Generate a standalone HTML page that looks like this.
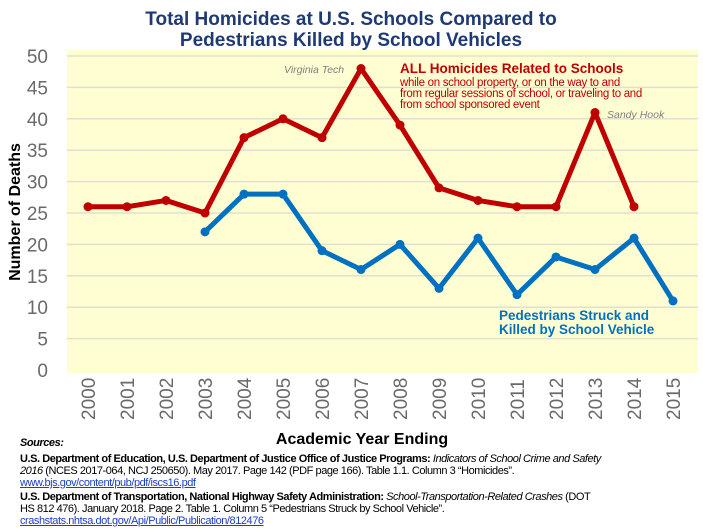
<!DOCTYPE html>
<html><head><meta charset="utf-8"><style>
body{margin:0;width:703px;height:529px;background:#fff;overflow:hidden;font-family:"Liberation Sans",sans-serif;}
svg{position:absolute;left:0;top:0}
.src{position:absolute;left:20px;font-size:11px;line-height:12px;color:#000;font-family:"Liberation Sans",sans-serif;letter-spacing:-0.45px;white-space:nowrap}
a{color:#1a3fc4;text-decoration:underline}
</style></head><body>
<svg id="chart" width="703" height="529"></svg>
<div class="src" style="top:437px;font-style:italic;font-weight:bold">Sources:</div>
<div class="src" style="top:453px"><b>U.S. Department of Education, U.S. Department of Justice Office of Justice Programs:</b> <i>Indicators of School Crime and Safety</i><br><i>2016</i> (NCES 2017-064, NCJ 250650). May 2017. Page 142 (PDF page 166). Table 1.1. Column 3 “Homicides”.<br><a>www.bjs.gov/content/pub/pdf/iscs16.pdf</a></div>
<div class="src" style="top:491px"><b>U.S. Department of Transportation, National Highway Safety Administration:</b> <i>School-Transportation-Related Crashes</i> (DOT<br>HS 812 476). January 2018. Page 2. Table 1. Column 5 “Pedestrians Struck by School Vehicle”.<br><a>crashstats.nhtsa.dot.gov/Api/Public/Publication/812476</a></div>
<script>
const years=[2000,2001,2002,2003,2004,2005,2006,2007,2008,2009,2010,2011,2012,2013,2014,2015];
const homicides=[26,26,27,25,37,40,37,48,39,29,27,26,26,41,26,null];
const pedestrians=[null,null,null,22,28,28,19,16,20,13,21,12,18,16,21,11];
const yTicks=[0,5,10,15,20,25,30,35,40,45,50];
const NS='http://www.w3.org/2000/svg';
const svg=document.getElementById('chart');
const x=i=>88+i*39;
const y=v=>370-v*6.28;
function mk(t,a,txt){const e=document.createElementNS(NS,t);for(const k in a)e.setAttribute(k,a[k]);if(txt!=null)e.textContent=txt;svg.appendChild(e);return e;}
let e;
e=mk('rect',{x:67,y:50,width:631,height:323,fill:'#fffed2'});


e=mk('text',{x:351,y:25,'text-anchor':'middle','font-size':19,'font-weight':'bold',fill:'#1f3a73'},'Total Homicides at U.S. Schools Compared to');


e=mk('text',{x:351,y:46,'text-anchor':'middle','font-size':19,'font-weight':'bold',fill:'#1f3a73'},'Pedestrians Killed by School Vehicles');


yTicks.forEach(v=>{
 if(v>0){e=mk('line',{x1:67,x2:698,y1:y(v),y2:y(v),stroke:'#e0e0d0','stroke-width':1.5});
 
 }
 e=mk('text',{x:48,y:y(v)+7,'text-anchor':'end','font-size':19,fill:'#6a6a6a'},v);
 
 
});
years.forEach((yr,i)=>{
 e=mk('text',{transform:`translate(${x(i)+7},420) rotate(-90)`,'font-size':19,fill:'#6a6a6a'},yr);
 
 
});
e=mk('text',{x:362,y:444,'text-anchor':'middle','font-size':16,'font-weight':'bold'},'Academic Year Ending');


e=mk('text',{transform:'translate(20,212) rotate(-90)','text-anchor':'middle','font-size':16,'font-weight':'bold'},'Number of Deaths');


function series(vals,color,name){
 const pts=[];vals.forEach((v,i)=>{if(v!=null)pts.push([x(i),y(v)]);});
 e=mk('polyline',{points:pts.map(p=>p.join(',')).join(' '),fill:'none',stroke:color,'stroke-width':5,'stroke-linejoin':'round'});
 
 
 pts.forEach(p=>{e=mk('circle',{cx:p[0],cy:p[1],r:4.5,fill:color});
 
 });
}
series(homicides,'#c00000','homicides');
series(pedestrians,'#0070c0','pedestrians');
e=mk('text',{x:400,y:73,'font-size':13.5,'font-weight':'bold',fill:'#c00000'},'ALL Homicides Related to Schools');


['while on school property, or on the way to  and','from regular sessions of school, or traveling to and','from school sponsored event'].forEach((t,k)=>{
 e=mk('text',{x:400,y:86+k*11,'font-size':11.5,fill:'#c00000','letter-spacing':-0.3},t);
 
 
});
e=mk('text',{x:284,y:73,'font-size':10.5,'font-style':'italic',fill:'#808080'},'Virginia Tech');


e=mk('text',{x:607,y:118,'font-size':10.5,'font-style':'italic',fill:'#808080'},'Sandy Hook');


e=mk('text',{x:499,y:320,'font-size':13.5,'font-weight':'bold',fill:'#0070c0'},'Pedestrians Struck and');


e=mk('text',{x:499,y:334,'font-size':13.5,'font-weight':'bold',fill:'#0070c0'},'Killed by School Vehicle');


</script>
</body></html>
